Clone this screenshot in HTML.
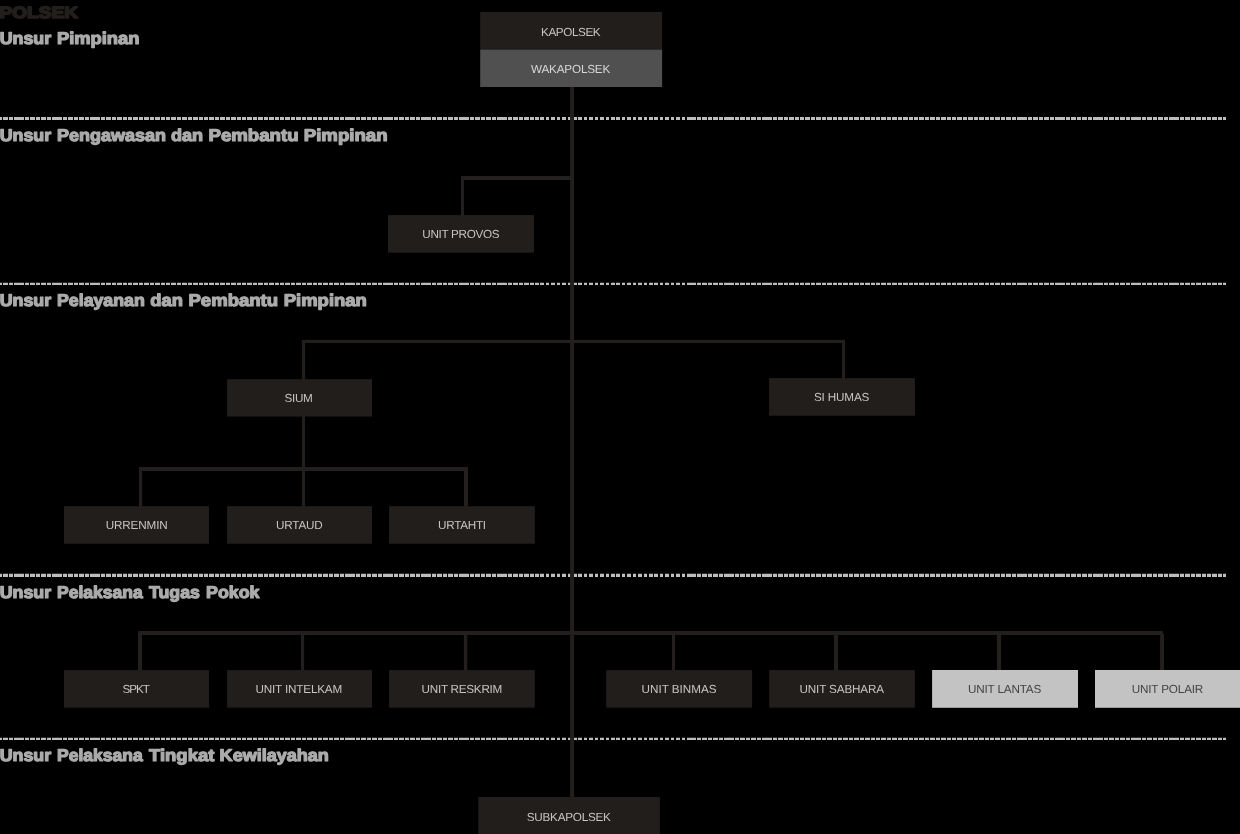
<!DOCTYPE html>
<html><head><meta charset="utf-8"><title>POLSEK</title>
<style>
html,body{margin:0;padding:0;background:#000;}
body{width:1240px;height:834px;position:relative;overflow:hidden;}
svg{position:absolute;left:0;top:0;display:block;will-change:transform;}
text{font-family:"Liberation Sans",sans-serif;text-rendering:geometricPrecision;}
.lb{font-size:11.7px;text-anchor:middle;}
.hd{font-size:17.0px;font-weight:bold;fill:#ababab;stroke:#ababab;stroke-width:1.2;stroke-linejoin:round;}
.ps{font-size:16px;font-weight:bold;fill:#231f1c;stroke:#231f1c;stroke-width:1.7;stroke-linejoin:round;}
</style></head><body>
<svg width="1240" height="834" viewBox="0 0 1240 834">
<rect width="1240" height="834" fill="#000"/>
<g stroke="#bdbdbd" fill="none">
<path stroke-width="3.15" d="M0 118.47H2M3 118.47H8M9 118.47H13M14 118.47H24M25 118.47H29M30 118.47H35M36 118.47H40M41 118.47H46M47 118.47H51M52 118.47H62M63 118.47H67M68 118.47H73M74 118.47H78M79 118.47H84M85 118.47H89M90 118.47H100M101 118.47H105M106 118.47H111M112 118.47H116M117 118.47H122M123 118.47H127M128 118.47H132M133 118.47H138M139 118.47H143M144 118.47H149M150 118.47H154M155 118.47H160M161 118.47H165M166 118.47H170M171 118.47H176M177 118.47H181M182 118.47H187M188 118.47H192M193 118.47H198M199 118.47H203M204 118.47H208M209 118.47H214M215 118.47H219M220 118.47H225M226 118.47H230M231 118.47H236M237 118.47H241M242 118.47H246M247 118.47H252M253 118.47H257M258 118.47H263M264 118.47H268M269 118.47H274M275 118.47H279M280 118.47H284M285 118.47H290M291 118.47H295M296 118.47H301M302 118.47H306M307 118.47H312M313 118.47H317M318 118.47H322M323 118.47H328M329 118.47H333M334 118.47H339M340 118.47H344M345 118.47H355M356 118.47H360M361 118.47H366M367 118.47H371M372 118.47H377M378 118.47H382M383 118.47H393M394 118.47H398M399 118.47H404M405 118.47H409M410 118.47H415M416 118.47H420M421 118.47H431M432 118.47H436M437 118.47H442M443 118.47H447M448 118.47H453M454 118.47H458M459 118.47H469M470 118.47H474M475 118.47H480M481 118.47H485M486 118.47H491M492 118.47H496M497 118.47H507M508 118.47H512M513 118.47H518M519 118.47H523M524 118.47H529M530 118.47H534M535 118.47H539M540 118.47H544M546 118.47H549M551 118.47H555M557 118.47H560M562 118.47H566M568 118.47H571M573 118.47H577M578 118.47H582M584 118.47H587M589 118.47H593M595 118.47H598M600 118.47H604M606 118.47H609M611 118.47H615M616 118.47H620M622 118.47H625M627 118.47H631M633 118.47H636M638 118.47H642M644 118.47H647M649 118.47H653M654 118.47H658M660 118.47H663M665 118.47H669M671 118.47H674M676 118.47H680M682 118.47H685M687 118.47H696M697 118.47H701M702 118.47H707M708 118.47H712M713 118.47H718M719 118.47H723M724 118.47H734M735 118.47H739M740 118.47H745M746 118.47H750M751 118.47H756M757 118.47H761M762 118.47H772M773 118.47H777M778 118.47H783M784 118.47H788M789 118.47H794M795 118.47H799M800 118.47H804M805 118.47H810M811 118.47H815M816 118.47H821M822 118.47H826M827 118.47H832M833 118.47H837M838 118.47H842M843 118.47H848M849 118.47H853M854 118.47H859M860 118.47H864M865 118.47H870M871 118.47H875M876 118.47H880M881 118.47H886M887 118.47H891M892 118.47H897M898 118.47H902M903 118.47H908M909 118.47H913M914 118.47H918M919 118.47H924M925 118.47H929M930 118.47H935M936 118.47H940M941 118.47H946M947 118.47H951M952 118.47H956M957 118.47H962M963 118.47H967M968 118.47H973M974 118.47H978M979 118.47H984M985 118.47H989M990 118.47H994M995 118.47H1000M1001 118.47H1005M1006 118.47H1011M1012 118.47H1016M1017 118.47H1027M1028 118.47H1032M1033 118.47H1038M1039 118.47H1043M1044 118.47H1049M1050 118.47H1054M1055 118.47H1065M1066 118.47H1070M1071 118.47H1076M1077 118.47H1081M1082 118.47H1087M1088 118.47H1092M1093 118.47H1103M1104 118.47H1108M1109 118.47H1114M1115 118.47H1119M1120 118.47H1125M1126 118.47H1130M1131 118.47H1141M1142 118.47H1146M1147 118.47H1152M1153 118.47H1157M1158 118.47H1163M1164 118.47H1168M1169 118.47H1179M1180 118.47H1184M1185 118.47H1190M1191 118.47H1195M1196 118.47H1201M1202 118.47H1206M1207 118.47H1211M1212 118.47H1217M1218 118.47H1222M1223 118.47H1226"/>
<path stroke-width="2.25" d="M0 283.98H2M3 283.98H8M9 283.98H13M14 283.98H24M25 283.98H29M30 283.98H35M36 283.98H40M41 283.98H46M47 283.98H51M52 283.98H62M63 283.98H67M68 283.98H73M74 283.98H78M79 283.98H84M85 283.98H89M90 283.98H100M101 283.98H105M106 283.98H111M112 283.98H116M117 283.98H122M123 283.98H127M128 283.98H132M133 283.98H138M139 283.98H143M144 283.98H149M150 283.98H154M155 283.98H160M161 283.98H165M166 283.98H170M171 283.98H176M177 283.98H181M182 283.98H187M188 283.98H192M193 283.98H198M199 283.98H203M204 283.98H208M209 283.98H214M215 283.98H219M220 283.98H225M226 283.98H230M231 283.98H236M237 283.98H241M242 283.98H246M247 283.98H252M253 283.98H257M258 283.98H263M264 283.98H268M269 283.98H274M275 283.98H279M280 283.98H284M285 283.98H290M291 283.98H295M296 283.98H301M302 283.98H306M307 283.98H312M313 283.98H317M318 283.98H322M323 283.98H328M329 283.98H333M334 283.98H339M340 283.98H344M345 283.98H355M356 283.98H360M361 283.98H366M367 283.98H371M372 283.98H377M378 283.98H382M383 283.98H393M394 283.98H398M399 283.98H404M405 283.98H409M410 283.98H415M416 283.98H420M421 283.98H431M432 283.98H436M437 283.98H442M443 283.98H447M448 283.98H453M454 283.98H458M459 283.98H469M470 283.98H474M475 283.98H480M481 283.98H485M486 283.98H491M492 283.98H496M497 283.98H507M508 283.98H512M513 283.98H518M519 283.98H523M524 283.98H529M530 283.98H534M535 283.98H539M540 283.98H544M546 283.98H549M551 283.98H555M557 283.98H560M562 283.98H566M568 283.98H571M573 283.98H577M578 283.98H582M584 283.98H587M589 283.98H593M595 283.98H598M600 283.98H604M606 283.98H609M611 283.98H615M616 283.98H620M622 283.98H625M627 283.98H631M633 283.98H636M638 283.98H642M644 283.98H647M649 283.98H653M654 283.98H658M660 283.98H663M665 283.98H669M671 283.98H674M676 283.98H680M682 283.98H685M687 283.98H696M697 283.98H701M702 283.98H707M708 283.98H712M713 283.98H718M719 283.98H723M724 283.98H734M735 283.98H739M740 283.98H745M746 283.98H750M751 283.98H756M757 283.98H761M762 283.98H772M773 283.98H777M778 283.98H783M784 283.98H788M789 283.98H794M795 283.98H799M800 283.98H804M805 283.98H810M811 283.98H815M816 283.98H821M822 283.98H826M827 283.98H832M833 283.98H837M838 283.98H842M843 283.98H848M849 283.98H853M854 283.98H859M860 283.98H864M865 283.98H870M871 283.98H875M876 283.98H880M881 283.98H886M887 283.98H891M892 283.98H897M898 283.98H902M903 283.98H908M909 283.98H913M914 283.98H918M919 283.98H924M925 283.98H929M930 283.98H935M936 283.98H940M941 283.98H946M947 283.98H951M952 283.98H956M957 283.98H962M963 283.98H967M968 283.98H973M974 283.98H978M979 283.98H984M985 283.98H989M990 283.98H994M995 283.98H1000M1001 283.98H1005M1006 283.98H1011M1012 283.98H1016M1017 283.98H1027M1028 283.98H1032M1033 283.98H1038M1039 283.98H1043M1044 283.98H1049M1050 283.98H1054M1055 283.98H1065M1066 283.98H1070M1071 283.98H1076M1077 283.98H1081M1082 283.98H1087M1088 283.98H1092M1093 283.98H1103M1104 283.98H1108M1109 283.98H1114M1115 283.98H1119M1120 283.98H1125M1126 283.98H1130M1131 283.98H1141M1142 283.98H1146M1147 283.98H1152M1153 283.98H1157M1158 283.98H1163M1164 283.98H1168M1169 283.98H1179M1180 283.98H1184M1185 283.98H1190M1191 283.98H1195M1196 283.98H1201M1202 283.98H1206M1207 283.98H1211M1212 283.98H1217M1218 283.98H1222M1223 283.98H1226"/>
<path stroke-width="3.07" d="M0 575.40H2M3 575.40H8M9 575.40H13M14 575.40H24M25 575.40H29M30 575.40H35M36 575.40H40M41 575.40H46M47 575.40H51M52 575.40H62M63 575.40H67M68 575.40H73M74 575.40H78M79 575.40H84M85 575.40H89M90 575.40H100M101 575.40H105M106 575.40H111M112 575.40H116M117 575.40H122M123 575.40H127M128 575.40H132M133 575.40H138M139 575.40H143M144 575.40H149M150 575.40H154M155 575.40H160M161 575.40H165M166 575.40H170M171 575.40H176M177 575.40H181M182 575.40H187M188 575.40H192M193 575.40H198M199 575.40H203M204 575.40H208M209 575.40H214M215 575.40H219M220 575.40H225M226 575.40H230M231 575.40H236M237 575.40H241M242 575.40H246M247 575.40H252M253 575.40H257M258 575.40H263M264 575.40H268M269 575.40H274M275 575.40H279M280 575.40H284M285 575.40H290M291 575.40H295M296 575.40H301M302 575.40H306M307 575.40H312M313 575.40H317M318 575.40H322M323 575.40H328M329 575.40H333M334 575.40H339M340 575.40H344M345 575.40H355M356 575.40H360M361 575.40H366M367 575.40H371M372 575.40H377M378 575.40H382M383 575.40H393M394 575.40H398M399 575.40H404M405 575.40H409M410 575.40H415M416 575.40H420M421 575.40H431M432 575.40H436M437 575.40H442M443 575.40H447M448 575.40H453M454 575.40H458M459 575.40H469M470 575.40H474M475 575.40H480M481 575.40H485M486 575.40H491M492 575.40H496M497 575.40H507M508 575.40H512M513 575.40H518M519 575.40H523M524 575.40H529M530 575.40H534M535 575.40H539M540 575.40H544M546 575.40H549M551 575.40H555M557 575.40H560M562 575.40H566M568 575.40H571M573 575.40H577M578 575.40H582M584 575.40H587M589 575.40H593M595 575.40H598M600 575.40H604M606 575.40H609M611 575.40H615M616 575.40H620M622 575.40H625M627 575.40H631M633 575.40H636M638 575.40H642M644 575.40H647M649 575.40H653M654 575.40H658M660 575.40H663M665 575.40H669M671 575.40H674M676 575.40H680M682 575.40H685M687 575.40H696M697 575.40H701M702 575.40H707M708 575.40H712M713 575.40H718M719 575.40H723M724 575.40H734M735 575.40H739M740 575.40H745M746 575.40H750M751 575.40H756M757 575.40H761M762 575.40H772M773 575.40H777M778 575.40H783M784 575.40H788M789 575.40H794M795 575.40H799M800 575.40H804M805 575.40H810M811 575.40H815M816 575.40H821M822 575.40H826M827 575.40H832M833 575.40H837M838 575.40H842M843 575.40H848M849 575.40H853M854 575.40H859M860 575.40H864M865 575.40H870M871 575.40H875M876 575.40H880M881 575.40H886M887 575.40H891M892 575.40H897M898 575.40H902M903 575.40H908M909 575.40H913M914 575.40H918M919 575.40H924M925 575.40H929M930 575.40H935M936 575.40H940M941 575.40H946M947 575.40H951M952 575.40H956M957 575.40H962M963 575.40H967M968 575.40H973M974 575.40H978M979 575.40H984M985 575.40H989M990 575.40H994M995 575.40H1000M1001 575.40H1005M1006 575.40H1011M1012 575.40H1016M1017 575.40H1027M1028 575.40H1032M1033 575.40H1038M1039 575.40H1043M1044 575.40H1049M1050 575.40H1054M1055 575.40H1065M1066 575.40H1070M1071 575.40H1076M1077 575.40H1081M1082 575.40H1087M1088 575.40H1092M1093 575.40H1103M1104 575.40H1108M1109 575.40H1114M1115 575.40H1119M1120 575.40H1125M1126 575.40H1130M1131 575.40H1141M1142 575.40H1146M1147 575.40H1152M1153 575.40H1157M1158 575.40H1163M1164 575.40H1168M1169 575.40H1179M1180 575.40H1184M1185 575.40H1190M1191 575.40H1195M1196 575.40H1201M1202 575.40H1206M1207 575.40H1211M1212 575.40H1217M1218 575.40H1222M1223 575.40H1226"/>
<path stroke-width="2.20" d="M0 738.90H2M3 738.90H8M9 738.90H13M14 738.90H24M25 738.90H29M30 738.90H35M36 738.90H40M41 738.90H46M47 738.90H51M52 738.90H62M63 738.90H67M68 738.90H73M74 738.90H78M79 738.90H84M85 738.90H89M90 738.90H100M101 738.90H105M106 738.90H111M112 738.90H116M117 738.90H122M123 738.90H127M128 738.90H132M133 738.90H138M139 738.90H143M144 738.90H149M150 738.90H154M155 738.90H160M161 738.90H165M166 738.90H170M171 738.90H176M177 738.90H181M182 738.90H187M188 738.90H192M193 738.90H198M199 738.90H203M204 738.90H208M209 738.90H214M215 738.90H219M220 738.90H225M226 738.90H230M231 738.90H236M237 738.90H241M242 738.90H246M247 738.90H252M253 738.90H257M258 738.90H263M264 738.90H268M269 738.90H274M275 738.90H279M280 738.90H284M285 738.90H290M291 738.90H295M296 738.90H301M302 738.90H306M307 738.90H312M313 738.90H317M318 738.90H322M323 738.90H328M329 738.90H333M334 738.90H339M340 738.90H344M345 738.90H355M356 738.90H360M361 738.90H366M367 738.90H371M372 738.90H377M378 738.90H382M383 738.90H393M394 738.90H398M399 738.90H404M405 738.90H409M410 738.90H415M416 738.90H420M421 738.90H431M432 738.90H436M437 738.90H442M443 738.90H447M448 738.90H453M454 738.90H458M459 738.90H469M470 738.90H474M475 738.90H480M481 738.90H485M486 738.90H491M492 738.90H496M497 738.90H507M508 738.90H512M513 738.90H518M519 738.90H523M524 738.90H529M530 738.90H534M535 738.90H539M540 738.90H544M546 738.90H549M551 738.90H555M557 738.90H560M562 738.90H566M568 738.90H571M573 738.90H577M578 738.90H582M584 738.90H587M589 738.90H593M595 738.90H598M600 738.90H604M606 738.90H609M611 738.90H615M616 738.90H620M622 738.90H625M627 738.90H631M633 738.90H636M638 738.90H642M644 738.90H647M649 738.90H653M654 738.90H658M660 738.90H663M665 738.90H669M671 738.90H674M676 738.90H680M682 738.90H685M687 738.90H696M697 738.90H701M702 738.90H707M708 738.90H712M713 738.90H718M719 738.90H723M724 738.90H734M735 738.90H739M740 738.90H745M746 738.90H750M751 738.90H756M757 738.90H761M762 738.90H772M773 738.90H777M778 738.90H783M784 738.90H788M789 738.90H794M795 738.90H799M800 738.90H804M805 738.90H810M811 738.90H815M816 738.90H821M822 738.90H826M827 738.90H832M833 738.90H837M838 738.90H842M843 738.90H848M849 738.90H853M854 738.90H859M860 738.90H864M865 738.90H870M871 738.90H875M876 738.90H880M881 738.90H886M887 738.90H891M892 738.90H897M898 738.90H902M903 738.90H908M909 738.90H913M914 738.90H918M919 738.90H924M925 738.90H929M930 738.90H935M936 738.90H940M941 738.90H946M947 738.90H951M952 738.90H956M957 738.90H962M963 738.90H967M968 738.90H973M974 738.90H978M979 738.90H984M985 738.90H989M990 738.90H994M995 738.90H1000M1001 738.90H1005M1006 738.90H1011M1012 738.90H1016M1017 738.90H1027M1028 738.90H1032M1033 738.90H1038M1039 738.90H1043M1044 738.90H1049M1050 738.90H1054M1055 738.90H1065M1066 738.90H1070M1071 738.90H1076M1077 738.90H1081M1082 738.90H1087M1088 738.90H1092M1093 738.90H1103M1104 738.90H1108M1109 738.90H1114M1115 738.90H1119M1120 738.90H1125M1126 738.90H1130M1131 738.90H1141M1142 738.90H1146M1147 738.90H1152M1153 738.90H1157M1158 738.90H1163M1164 738.90H1168M1169 738.90H1179M1180 738.90H1184M1185 738.90H1190M1191 738.90H1195M1196 738.90H1201M1202 738.90H1206M1207 738.90H1211M1212 738.90H1217M1218 738.90H1222M1223 738.90H1226"/>
</g>
<g fill="#231f1c">
<rect x="570.1" y="86.0" width="3.9" height="712.0"/>
<rect x="461.0" y="176.0" width="111.0" height="4.0"/>
<rect x="461.0" y="176.0" width="3.0" height="40.0"/>
<rect x="301.9" y="339.9" width="543.1" height="3.1"/>
<rect x="301.9" y="339.9" width="3.2" height="40.1"/>
<rect x="842.0" y="339.9" width="3.0" height="39.1"/>
<rect x="302.0" y="416.0" width="3.0" height="91.0"/>
<rect x="139.0" y="467.0" width="329.0" height="4.0"/>
<rect x="139.0" y="467.0" width="3.1" height="40.0"/>
<rect x="464.0" y="467.0" width="4.0" height="40.0"/>
<rect x="138.0" y="631.0" width="1025.0" height="4.0"/>
<rect x="138.0" y="631.0" width="4.0" height="40.0"/>
<rect x="301.0" y="631.0" width="3.1" height="40.0"/>
<rect x="463.9" y="631.0" width="3.4" height="40.0"/>
<rect x="672.0" y="631.0" width="3.0" height="40.0"/>
<rect x="834.0" y="631.0" width="4.1" height="40.0"/>
<rect x="996.9" y="631.0" width="4.2" height="40.0"/>
<rect x="1160.1" y="634.0" width="3.9" height="37.0"/>
</g>
<rect x="480.2" y="11.9" width="181.9" height="37.7" fill="#221e1b"/>
<rect x="480.2" y="49.6" width="181.9" height="37.4" fill="#505050"/>
<rect x="388.0" y="215.1" width="146.0" height="37.6" fill="#221e1b"/>
<rect x="227.1" y="379.2" width="144.9" height="37.4" fill="#221e1b"/>
<rect x="769.1" y="378.1" width="145.8" height="37.6" fill="#221e1b"/>
<rect x="64.0" y="506.2" width="145.0" height="37.5" fill="#221e1b"/>
<rect x="227.1" y="506.2" width="144.9" height="37.5" fill="#221e1b"/>
<rect x="389.1" y="506.2" width="145.7" height="37.5" fill="#221e1b"/>
<rect x="64.0" y="670.1" width="145.0" height="37.6" fill="#221e1b"/>
<rect x="227.1" y="670.1" width="144.9" height="37.6" fill="#221e1b"/>
<rect x="389.1" y="670.1" width="145.7" height="37.6" fill="#221e1b"/>
<rect x="606.2" y="670.1" width="145.9" height="37.6" fill="#221e1b"/>
<rect x="769.2" y="670.1" width="145.6" height="37.6" fill="#221e1b"/>
<rect x="932.1" y="670.0" width="145.9" height="37.8" fill="#c3c3c3"/>
<rect x="1095.0" y="670.0" width="146.0" height="37.8" fill="#c3c3c3"/>
<rect x="478.3" y="797.0" width="181.6" height="39.0" fill="#221e1b"/>
<text class="lb" x="570.80" y="35.50" fill="#c6c4c2" textLength="59.6" lengthAdjust="spacing">KAPOLSEK</text>
<text class="lb" x="570.65" y="72.60" fill="#d6d6d6" textLength="79.3" lengthAdjust="spacing">WAKAPOLSEK</text>
<text class="lb" x="460.90" y="238.10" fill="#c6c4c2" textLength="77.2" lengthAdjust="spacing">UNIT PROVOS</text>
<text class="lb" x="298.70" y="402.10" fill="#c6c4c2" textLength="28.2" lengthAdjust="spacing">SIUM</text>
<text class="lb" x="841.65" y="401.00" fill="#c6c4c2" textLength="55.3" lengthAdjust="spacing">SI HUMAS</text>
<text class="lb" x="136.70" y="529.20" fill="#c6c4c2" textLength="62.0" lengthAdjust="spacing">URRENMIN</text>
<text class="lb" x="299.35" y="529.20" fill="#c6c4c2" textLength="46.9" lengthAdjust="spacing">URTAUD</text>
<text class="lb" x="462.10" y="529.20" fill="#c6c4c2" textLength="48.0" lengthAdjust="spacing">URTAHTI</text>
<text class="lb" x="136.25" y="693.20" fill="#c6c4c2" textLength="27.5" lengthAdjust="spacing">SPKT</text>
<text class="lb" x="298.85" y="693.20" fill="#c6c4c2" textLength="86.7" lengthAdjust="spacing">UNIT INTELKAM</text>
<text class="lb" x="461.95" y="693.20" fill="#c6c4c2" textLength="80.7" lengthAdjust="spacing">UNIT RESKRIM</text>
<text class="lb" x="679.05" y="693.20" fill="#c6c4c2" textLength="75.1" lengthAdjust="spacing">UNIT BINMAS</text>
<text class="lb" x="841.80" y="693.20" fill="#c6c4c2" textLength="84.6" lengthAdjust="spacing">UNIT SABHARA</text>
<text class="lb" x="1004.60" y="693.20" fill="#444444" textLength="73.2" lengthAdjust="spacing">UNIT LANTAS</text>
<text class="lb" x="1167.50" y="693.20" fill="#444444" textLength="71.6" lengthAdjust="spacing">UNIT POLAIR</text>
<text class="lb" x="568.80" y="820.60" fill="#c6c4c2" textLength="84.0" lengthAdjust="spacing">SUBKAPOLSEK</text>
<text class="ps" transform="translate(-0.5,17.9) scale(1.192,1.01)" x="0" y="0">POLSEK</text>
<text class="hd" y="44.24"><tspan x="-0.38" textLength="51.53" lengthAdjust="spacingAndGlyphs">Unsur</tspan><tspan x="56.90" textLength="82.58" lengthAdjust="spacingAndGlyphs">Pimpinan</tspan></text>
<text class="hd" y="141.27"><tspan x="-0.38" textLength="51.53" lengthAdjust="spacingAndGlyphs">Unsur</tspan><tspan x="57.13" textLength="108.89" lengthAdjust="spacingAndGlyphs">Pengawasan</tspan><tspan x="171.00" textLength="32.16" lengthAdjust="spacingAndGlyphs">dan</tspan><tspan x="208.50" textLength="90.03" lengthAdjust="spacingAndGlyphs">Pembantu</tspan><tspan x="303.81" textLength="83.72" lengthAdjust="spacingAndGlyphs">Pimpinan</tspan></text>
<text class="hd" y="306.17"><tspan x="-0.38" textLength="51.53" lengthAdjust="spacingAndGlyphs">Unsur</tspan><tspan x="57.03" textLength="87.76" lengthAdjust="spacingAndGlyphs">Pelayanan</tspan><tspan x="150.32" textLength="32.55" lengthAdjust="spacingAndGlyphs">dan</tspan><tspan x="188.50" textLength="89.60" lengthAdjust="spacingAndGlyphs">Pembantu</tspan><tspan x="283.81" textLength="83.02" lengthAdjust="spacingAndGlyphs">Pimpinan</tspan></text>
<text class="hd" y="598.30"><tspan x="-0.38" textLength="51.53" lengthAdjust="spacingAndGlyphs">Unsur</tspan><tspan x="57.05" textLength="85.65" lengthAdjust="spacingAndGlyphs">Pelaksana</tspan><tspan x="149.01" textLength="50.95" lengthAdjust="spacingAndGlyphs">Tugas</tspan><tspan x="206.01" textLength="53.46" lengthAdjust="spacingAndGlyphs">Pokok</tspan></text>
<text class="hd" y="761.14"><tspan x="-0.38" textLength="51.53" lengthAdjust="spacingAndGlyphs">Unsur</tspan><tspan x="57.05" textLength="85.65" lengthAdjust="spacingAndGlyphs">Pelaksana</tspan><tspan x="149.04" textLength="65.29" lengthAdjust="spacingAndGlyphs">Tingkat</tspan><tspan x="219.62" textLength="109.26" lengthAdjust="spacingAndGlyphs">Kewilayahan</tspan></text>
</svg>
</body></html>
